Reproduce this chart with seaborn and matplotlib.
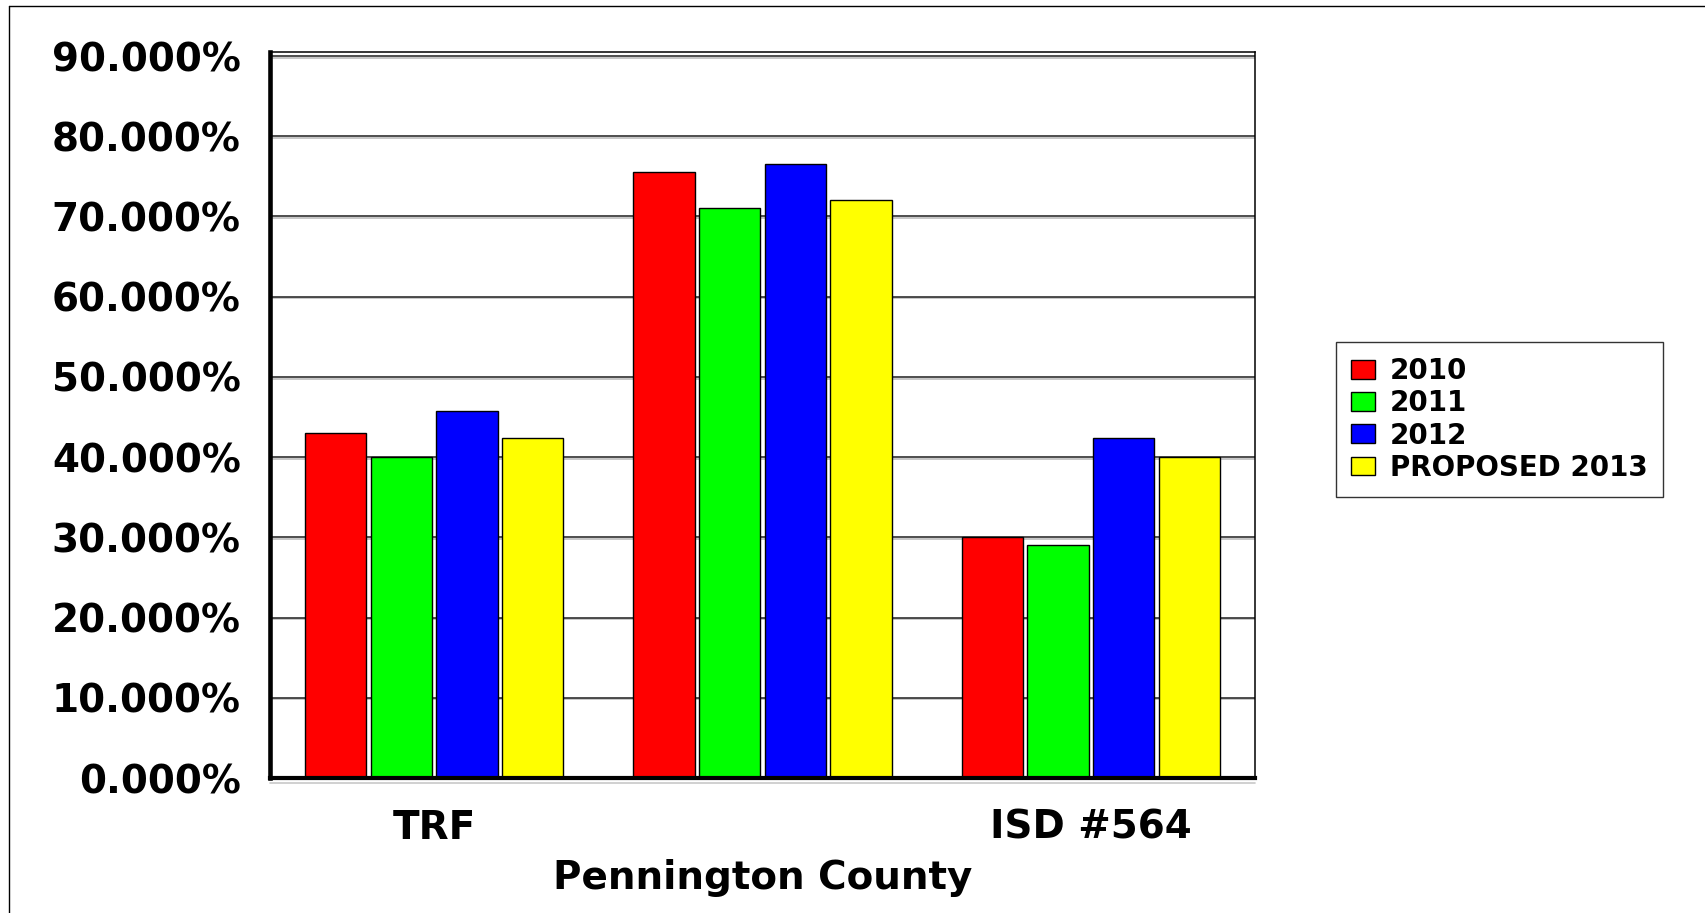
import pandas as pd
import matplotlib
matplotlib.use("Agg")
import matplotlib.pyplot as plt
import matplotlib.patheffects as pe
from matplotlib.lines import Line2D
from matplotlib.ticker import FuncFormatter
import seaborn as sns

# values (percent)
categories = ["TRF", "Pennington County", "ISD #564"]
years = ["2010", "2011", "2012", "PROPOSED 2013"]
rate_2010 = [43.0, 75.5, 30.0]
rate_2011 = [40.0, 71.0, 29.0]
rate_2012 = [45.8, 76.6, 42.4]
rate_2013 = [42.4, 72.1, 40.0]
colors = ["#FF0000", "#00FF00", "#0000FF", "#FFFF00"]

rows = []
for year, vals in zip(years, [rate_2010, rate_2011, rate_2012, rate_2013]):
    for cat, v in zip(categories, vals):
        rows.append({"area": cat, "year": year, "rate": v})
df = pd.DataFrame(rows)

sns.set_style("white")
plt.rcParams["font.family"] = ["DejaVu Sans"]
plt.rcParams["font.weight"] = "bold"
plt.rcParams["text.color"] = "black"
plt.rcParams["xtick.color"] = "black"
plt.rcParams["ytick.color"] = "black"

W, H = 1705, 913
fig = plt.figure(figsize=(W / 100, H / 100), dpi=100)
ax = fig.add_axes([270 / W, 1 - 778 / H, 985 / W, 726 / H])

sns.barplot(data=df, x="area", y="rate", hue="year", order=categories,
            hue_order=years, palette=colors, width=0.8, gap=0.07,
            edgecolor="black", linewidth=1, saturation=1, ax=ax)

ax.set_xlim(-0.5, 2.5)
ax.set_ylim(0, 90.5)
ax.set_yticks(range(0, 91, 10))
ax.yaxis.set_major_formatter(FuncFormatter(lambda v, p: f"{v:.3f}%"))
ax.set_xlabel("")
ax.set_ylabel("")

ax.set_axisbelow(True)
ax.yaxis.grid(True, color="#303030", linewidth=1.2)
for gl in ax.get_ygridlines():
    gl.set_path_effects([pe.SimpleLineShadow(offset=(0, -1.2), shadow_color="#bdbdbd", alpha=1),
                         pe.Normal()])

ax.tick_params(axis="both", length=0, labelsize=28, labelcolor="black")
ax.tick_params(axis="y", pad=21)
ax.tick_params(axis="x", pad=22)
for lab in ax.get_xticklabels() + ax.get_yticklabels():
    lab.set_fontweight("bold")
ax.xaxis.get_major_ticks()[1].set_pad(58)

for side in ["left", "right", "top", "bottom"]:
    ax.spines[side].set_visible(True)
    ax.spines[side].set_color("black")
ax.spines["left"].set_linewidth(3.3)
ax.spines["bottom"].set_linewidth(3.0)
ax.spines["right"].set_linewidth(1.1)
ax.spines["top"].set_linewidth(1.1)

# light shadow line under the base
ax.add_line(Line2D([0, 1], [-0.0075, -0.0075], transform=ax.transAxes,
                   color="#c8c8c8", linewidth=1.2, clip_on=False))

handles, labels = ax.get_legend_handles_labels()
ax.get_legend().remove()
leg = fig.legend(handles, labels, loc="upper left",
                 bbox_to_anchor=(1336 / W, 1 - 342 / H), borderaxespad=0,
                 frameon=True, fancybox=False, shadow=False,
                 handlelength=0.85, handleheight=0.66, handletextpad=0.55,
                 labelspacing=0.15, borderpad=0.55,
                 prop={"weight": "bold", "size": 20})
leg.get_frame().set_edgecolor("black")
leg.get_frame().set_linewidth(1)
for t in leg.get_texts():
    t.set_color("black")

# outer border of the picture (left and top edges)
fig.add_artist(Line2D([9 / W, 9 / W], [0, 1 - 6 / H], transform=fig.transFigure,
                      color="black", linewidth=1))
fig.add_artist(Line2D([9 / W, 1], [1 - 6 / H, 1 - 6 / H], transform=fig.transFigure,
                      color="black", linewidth=1))

fig.savefig("out.png", dpi=100, facecolor="white")
